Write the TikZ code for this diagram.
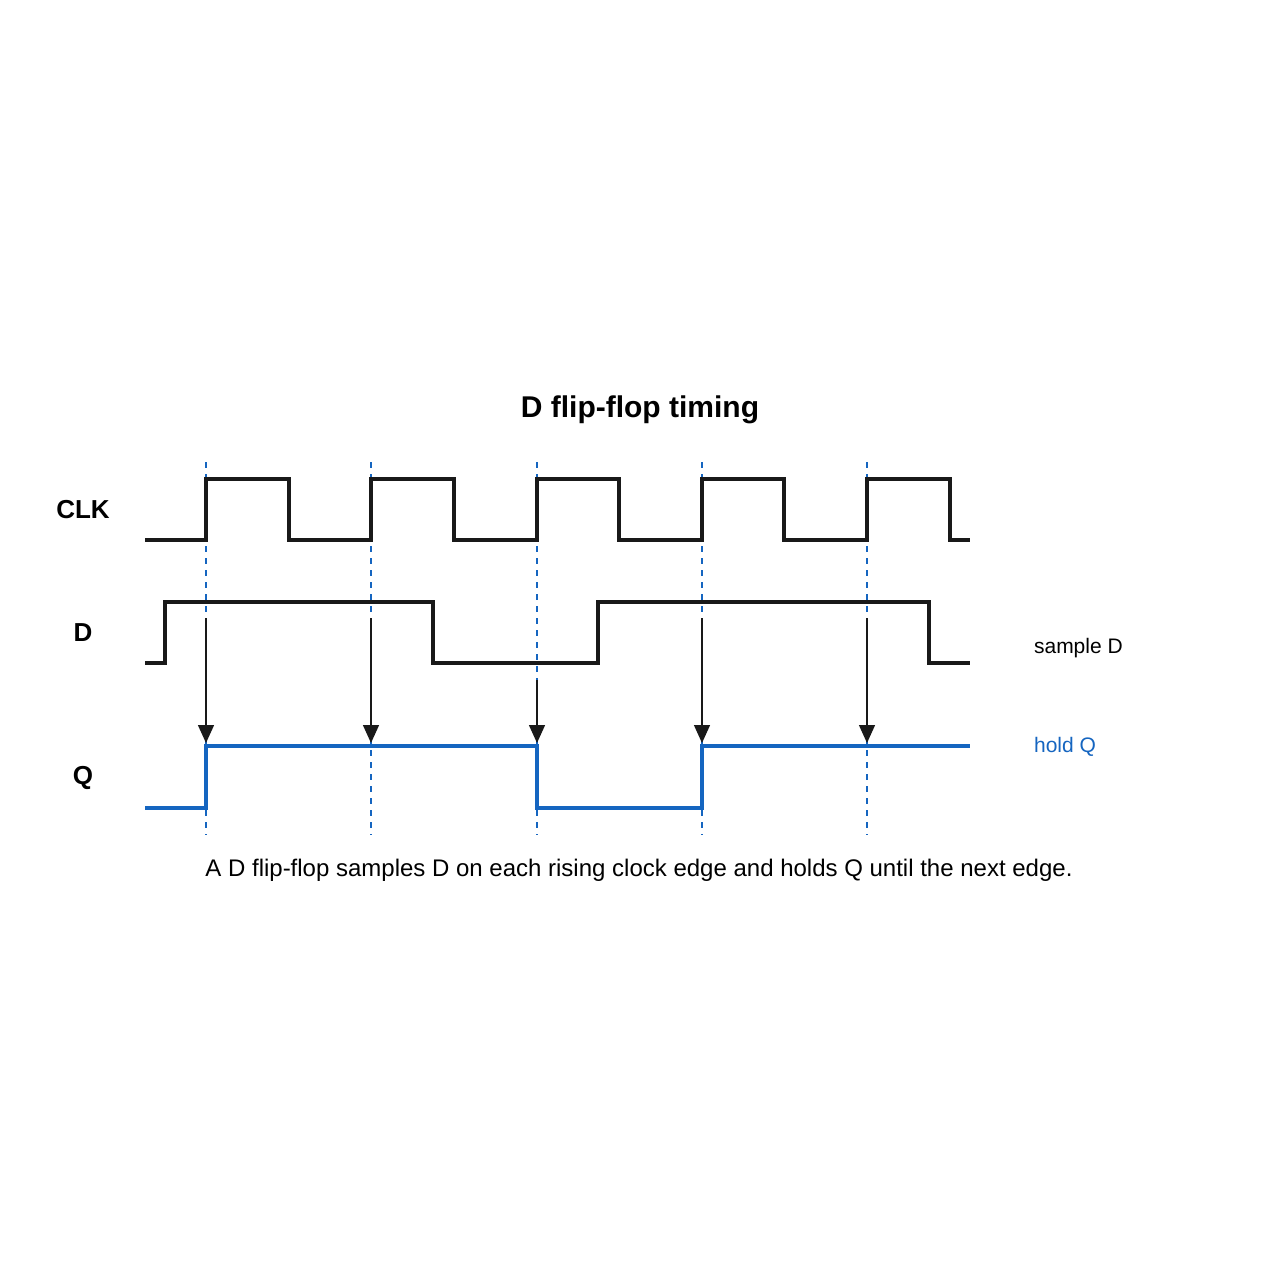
\documentclass[tikz,border=0pt]{standalone}
\usepackage{fontspec}
\setmainfont{Liberation Sans}
\usetikzlibrary{arrows.meta}
\definecolor{qblue}{HTML}{1565C0}
\tikzset{
  wave/.style={line width=1.6pt, black!90},
  qwave/.style={line width=2.2pt, qblue},
  edge/.style={qblue, dashed, line width=0.6pt, dash pattern=on 3pt off 3pt},
  sample/.style={-{Triangle[length=9pt,width=8pt]}, line width=0.7pt, black!90},
  siglabel/.style={font=\bfseries\fontsize{13}{15}\selectfont}
}
\begin{document}
\begin{tikzpicture}[x=0.5pt,y=-0.5pt]
  \useasboundingbox (0,0) rectangle (1280,1280);

  % titel
  \node[font=\bfseries\fontsize{15}{18}\selectfont] (title) at (640,410) {D flip-flop timing};

  % signal names
  \node[siglabel] (clk) at (83,510) {CLK};
  \node[siglabel] (d) at (83,633) {D};
  \node[siglabel] (q) at (83,778) {Q};

  % rising clock edges
  \foreach \x in {206,371,537,702,867} {
    \draw[edge] (\x,462) -- (\x,835);
  }

  % clock
  \draw[wave] (145,540) -- (206,540) -- (206,479) -- (289,479) -- (289,540)
    -- (371,540) -- (371,479) -- (454,479) -- (454,540)
    -- (537,540) -- (537,479) -- (619,479) -- (619,540)
    -- (702,540) -- (702,479) -- (784,479) -- (784,540)
    -- (867,540) -- (867,479) -- (950,479) -- (950,540) -- (970,540);

  % data
  \draw[wave] (145,663) -- (165,663) -- (165,602) -- (433,602) -- (433,663)
    -- (598,663) -- (598,602) -- (929,602) -- (929,663) -- (970,663);

  % output
  \draw[qwave] (145,808) -- (206,808) -- (206,746) -- (537,746) -- (537,808)
    -- (702,808) -- (702,746) -- (970,746);

  % sampling arrows
  \foreach \x/\y in {206/618,371/618,537/680,702/618,867/618} {
    \coordinate (s\x) at (\x,\y);
    \coordinate (t\x) at (\x,743);
    \draw[sample] (s\x) -- (t\x);
  }

  \node[anchor=west, font=\fontsize{10.5}{12}\selectfont] (smp) at (1027,648) {sample D};
  \node[anchor=west, text=qblue, font=\fontsize{10.5}{12}\selectfont] (hld) at (1027,747) {hold Q};

  \node[font=\fontsize{12}{14}\selectfont] (cap) at (639,870)
    {A D flip-flop samples D on each rising clock edge and holds Q until the next edge.};
\end{tikzpicture}
\end{document}
